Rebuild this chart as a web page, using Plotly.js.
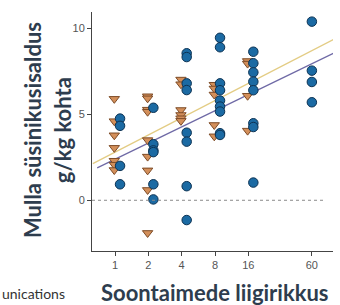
<!DOCTYPE html>
<html>
<head>
<meta charset="utf-8">
<script src="https://cdn.plot.ly/plotly-3.0.1.min.js"></script>
<style>html,body{margin:0;padding:0;background:#fff;}#chart{width:340px;height:305px;}</style>
</head>
<body>
<div id="chart"></div>
<script>
// Triangle group (orange) — richness level and soil carbon value
const triRichness = [1,1,1,1,1,1,1, 2,2,2,2,2,2,2,2,2, 4,4,4,4,4,4, 8,8,8,8,8, 16,16,16,16];
const triValues   = [5.9,4.6,3.78,3.05,2.3,2.07,1.76, 6.05,5.93,5.27,5.15,3.5,2.54,1.74,0.6,-1.9, 7.02,6.75,5.25,4.96,4.77,4.62, 6.72,6.5,6.15,4.38,3.72, 8.1,7.95,6.08,4.05];

// Circle group (blue)
const circRichness = [1,1,1,1, 2,2,2,2,2,2, 4,4,4,4,4,4,4,4, 8,8,8,8,8,8,8,8,8, 16,16,16,16,16,16,16,16, 60,60,60,60];
const circValues   = [4.75,4.33,2.0,0.93, 5.38,3.26,2.9,2.8,0.93,0.05, 8.55,8.33,6.8,6.41,3.93,3.41,0.82,-1.15, 9.45,8.9,6.8,6.4,5.8,5.45,5.16,3.9,3.8, 8.64,7.97,7.44,6.9,6.4,4.48,4.26,1.03, 10.39,7.54,6.88,5.7];

// Fitted lines: value = intercept + slope * log2(richness)
const fitNames      = ['yellow fit', 'purple fit'];
const fitIntercepts = [2.8, 2.39];
const fitSlopes     = [1.0, 0.94];
const fitFrom       = [0.63, 0.69];
const fitTo         = [100, 120];

const tickValues = [1, 2, 4, 8, 16, 60];
const tickLabels = ['1', '2', '4', '8', '16', '60'];
const yTickValues = [0, 5, 10];

// dodge the two groups apart where both have points at the same level
const triLevels = new Set(triRichness);
const circLevels = new Set(circRichness);
const circX = circRichness.map(r => triLevels.has(r) ? r * 1.11 : r);
const triX = triRichness.map(r => circLevels.has(r) ? r * 0.985 : r);

function fitLine(i) {
  const xs = [], ys = [];
  const n = 40;
  const a = Math.log2(fitFrom[i]), b = Math.log2(fitTo[i]);
  for (let k = 0; k <= n; k++) {
    const l = a + (b - a) * k / n;
    xs.push(Math.pow(2, l));
    ys.push(fitIntercepts[i] + fitSlopes[i] * l);
  }
  return {xs, ys};
}
const fitColors = ['#e3cc84', '#6f6aa6'];

const traces = [];
fitNames.forEach((name, i) => {
  const f = fitLine(i);
  traces.push({x: f.xs, y: f.ys, type: 'scatter', mode: 'lines', name: name,
    line: {color: fitColors[i], width: 1.3}, hoverinfo: 'skip'});
});
traces.push({x: triX, y: triValues, type: 'scatter', mode: 'markers', name: 'triangles',
  marker: {symbol: 'triangle-down', size: 9, color: '#d38f5a', line: {color: '#7d4b26', width: 1}}});
traces.push({x: circX, y: circValues, type: 'scatter', mode: 'markers', name: 'circles',
  marker: {symbol: 'circle', size: 9.5, color: '#1b6aa3', line: {color: '#0d3354', width: 1}}});

const tickFont = {family: 'Liberation Sans, Arial, sans-serif', size: 11, color: '#555'};
const titleFont = {family: 'Lato, "Open Sans", sans-serif', size: 22, color: '#2e3d4e', weight: 'bold'};

const layout = {
  width: 340, height: 305,
  margin: {l: 92, r: 7, t: 12, b: 54, pad: 0},
  paper_bgcolor: '#fff', plot_bgcolor: '#fff',
  showlegend: false,
  xaxis: {type: 'log', range: [-0.208, 1.969], tickvals: tickValues, ticktext: tickLabels,
    showline: true, linecolor: '#444', linewidth: 1, ticks: 'outside', ticklen: 4, tickcolor: '#444',
    showgrid: false, zeroline: false, tickfont: tickFont, fixedrange: true},
  yaxis: {range: [-2.95, 10.95], tickvals: yTickValues,
    showline: true, linecolor: '#444', linewidth: 1, ticks: 'outside', ticklen: 4, tickcolor: '#444',
    showgrid: false, zeroline: false, tickfont: tickFont, fixedrange: true},
  shapes: [{type: 'line', xref: 'paper', yref: 'y', x0: 0, x1: 0.967, y0: 0, y1: 0,
    line: {color: '#8a8a8a', width: 1, dash: 'dot'}}],
  annotations: [
    {text: '<b>Mulla süsinikusisaldus</b>', textangle: -90, xref: 'paper', yref: 'paper',
      x: -0.249, y: 0.506, xanchor: 'center', yanchor: 'middle', showarrow: false, font: titleFont},
    {text: '<b>g/kg kohta</b>', textangle: -90, xref: 'paper', yref: 'paper',
      x: -0.124, y: 0.506, xanchor: 'center', yanchor: 'middle', showarrow: false, font: titleFont},
    {text: '<b>Soontaimede liigirikkus</b>', xref: 'paper', yref: 'paper',
      x: 0.512, y: -0.172, xanchor: 'center', yanchor: 'middle', showarrow: false, font: titleFont},
    {text: 'unications', xref: 'paper', yref: 'paper', x: -0.382, y: -0.222,
      xanchor: 'left', yanchor: 'bottom', showarrow: false,
      font: {family: 'Lato, sans-serif', size: 14, color: '#333'}}
  ]
};

Plotly.newPlot('chart', traces, layout, {displayModeBar: false, staticPlot: true});
</script>
</body>
</html>
